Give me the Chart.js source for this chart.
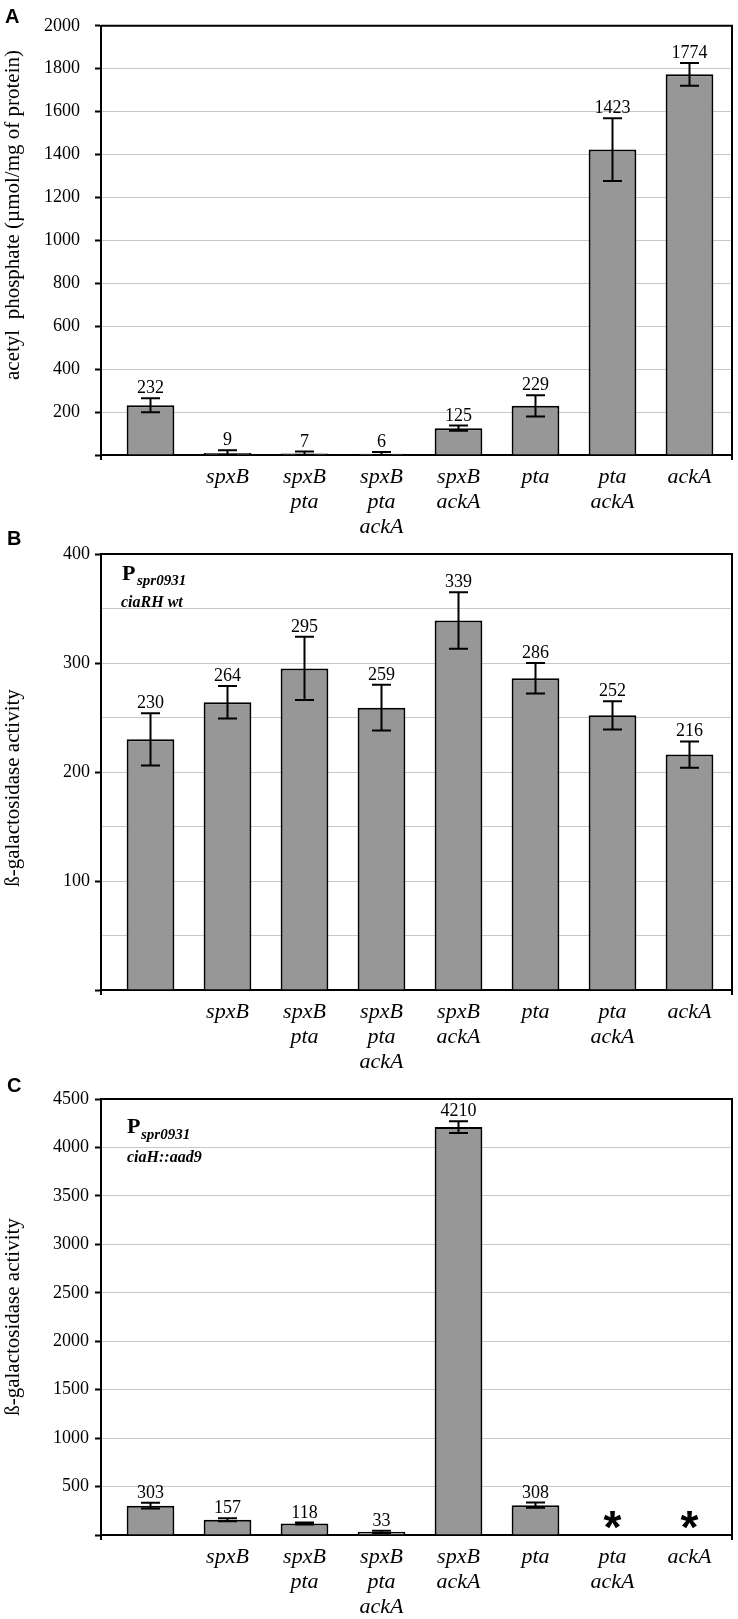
<!DOCTYPE html>
<html>
<head>
<meta charset="utf-8">
<script src="https://cdn.jsdelivr.net/npm/chart.js@4.4.1/dist/chart.umd.min.js"></script>
<style>
  html, body { margin: 0; padding: 0; background: #fff; }
  body { width: 738px; height: 1619px; position: relative; overflow: hidden; }
  canvas { position: absolute; left: 0; }
</style>
</head>
<body>
<canvas id="chartA" width="738" height="539" style="top:0px"></canvas>
<canvas id="chartB" width="738" height="549" style="top:525px"></canvas>
<canvas id="chartC" width="738" height="549" style="top:1070px"></canvas>
<script>
const strains = ["", "spxB", ["spxB", "pta"], ["spxB", "pta", "ackA"], ["spxB", "ackA"], "pta", ["pta", "ackA"], "ackA"];

// A: acetyl phosphate
const acetylP = [232, 9, 7, 6, 125, 229, 1423, 1774];
const acetylPErr = [33, 13, 9, 8, 12, 50, 146, 53];
const acetylTicks = {max: 2000, step: 200, major: 200};

// B: P spr0931, ciaRH wt
const galWt = [230, 264, 295, 259, 339, 286, 252, 216];
const galWtErr = [24, 15, 29, 21, 26, 14, 13, 12];
const galWtTicks = {max: 400, step: 50, major: 100};

// C: P spr0931, ciaH::aad9  (null = not obtained, shown as *)
const galCiaH = [303, 157, 118, 33, 4210, 308, null, null];
const galCiaHErr = [30, 15, 10, 12, 60, 27, null, null];
const galCiaHTicks = {max: 4500, step: 500, major: 500};

const serif = "'Liberation Serif', 'Times New Roman', serif";
const sans = "'Liberation Sans', Arial, sans-serif";

const extras = cfg => ({
    id: "extras",
    afterLayout(chart) {
        const x = chart.scales.x;
        x._startPixel = x.left + 11;
        x._endPixel = x.right - 4;
        x._length = x._endPixel - x._startPixel;
    },
    afterDatasetsDraw(chart) {
        const {ctx, chartArea: a, scales: {x, y}} = chart;
        ctx.save();
        ctx.strokeStyle = "#000";
        ctx.lineWidth = 2;
        ctx.beginPath();
        ctx.moveTo(a.left, a.top);
        ctx.lineTo(a.right, a.top);
        ctx.lineTo(a.right, a.bottom + 5);
        ctx.moveTo(a.left, a.bottom);
        ctx.lineTo(a.left, a.bottom + 5);
        ctx.stroke();

        ctx.fillStyle = "#000";
        ctx.textAlign = "center";
        cfg.values.forEach((v, i) => {
            const px = x.getPixelForValue(i);
            if (v === null) {
                ctx.font = "bold 46px " + sans;
                ctx.textBaseline = "alphabetic";
                ctx.fillText("*", px, a.bottom + 8);
                return;
            }
            const e = cfg.errors[i];
            const top = y.getPixelForValue(v + e);
            const bot = y.getPixelForValue(Math.max(v - e, 0));
            ctx.beginPath();
            ctx.moveTo(px, top);
            ctx.lineTo(px, bot);
            ctx.moveTo(px - 9.5, top);
            ctx.lineTo(px + 9.5, top);
            ctx.moveTo(px - 9.5, bot);
            ctx.lineTo(px + 9.5, bot);
            ctx.stroke();
            ctx.font = "18px " + serif;
            ctx.textBaseline = "alphabetic";
            ctx.fillText(String(v), px, top - 5);
        });
        ctx.restore();
    },
    afterDraw(chart) {
        const ctx = chart.ctx;
        ctx.save();
        ctx.fillStyle = "#000";
        ctx.font = "bold 20px " + sans;
        ctx.textAlign = "left";
        ctx.textBaseline = "alphabetic";
        ctx.fillText(cfg.letter, cfg.letterPos[0], cfg.letterPos[1]);

        cfg.notes.forEach(n => {
            ctx.font = n.font;
            ctx.fillText(n.text, n.x, n.y);
        });

        ctx.translate(13, cfg.titleY);
        ctx.rotate(-Math.PI / 2);
        ctx.textAlign = "center";
        ctx.textBaseline = "middle";
        ctx.font = "21px " + serif;
        ctx.fillText(cfg.title, 0, 0);
        ctx.restore();
    }
});

const makePanel = (id, cfg) => new Chart(document.getElementById(id), {
    type: "bar",
    data: {
        labels: strains,
        datasets: [{
            data: cfg.values,
            backgroundColor: "#979797",
            borderColor: "#000",
            borderWidth: 2,
            barPercentage: 0.62,
            categoryPercentage: 1
        }]
    },
    options: {
        responsive: false,
        animation: false,
        devicePixelRatio: 1,
        layout: {padding: {top: cfg.top, right: 6, left: 0, bottom: 0}},
        plugins: {
            legend: {display: false},
            tooltip: {enabled: false}
        },
        scales: {
            x: {
                grid: {display: false, drawTicks: false},
                border: {color: "#000", width: 2},
                ticks: {
                    color: "#000",
                    padding: 9.5,
                    maxRotation: 0,
                    autoSkip: false,
                    font: {family: serif, size: 22, style: "italic", lineHeight: "25px"}
                },
                afterFit: s => { s.height = 84; }
            },
            y: {
                min: 0,
                max: cfg.ticks.max,
                grid: {
                    color: "#c8c8c8",
                    lineWidth: 1,
                    tickLength: 6,
                    tickWidth: 2,
                    tickColor: c => c.tick && c.tick.value % cfg.ticks.major === 0 ? "#000" : "rgba(0,0,0,0)"
                },
                border: {color: "#000", width: 2},
                ticks: {
                    stepSize: cfg.ticks.step,
                    padding: cfg.pad,
                    color: "#000",
                    font: {family: serif, size: 18},
                    callback: v => v !== 0 && v % cfg.ticks.major === 0 ? v : ""
                },
                afterFit: s => { s.width = 101; }
            }
        }
    },
    plugins: [extras(cfg)]
});

makePanel("chartA", {
    values: acetylP, errors: acetylPErr, ticks: acetylTicks,
    top: 19, pad: 15,
    letter: "A", letterPos: [5, 23],
    title: "acetyl  phosphate (µmol/mg of protein)", titleY: 215,
    notes: []
});

makePanel("chartB", {
    values: galWt, errors: galWtErr, ticks: galWtTicks,
    top: 29, pad: 5,
    letter: "B", letterPos: [7, 20],
    title: "ß-galactosidase activity", titleY: 263,
    notes: [
        {text: "P", x: 122, y: 55, font: "bold 22px " + serif},
        {text: "spr0931", x: 137, y: 60, font: "bold italic 15px " + serif},
        {text: "ciaRH wt", x: 121, y: 82, font: "bold italic 16px " + serif}
    ]
});

makePanel("chartC", {
    values: galCiaH, errors: galCiaHErr, ticks: galCiaHTicks,
    top: 29, pad: 6,
    letter: "C", letterPos: [7, 22],
    title: "ß-galactosidase activity", titleY: 247,
    notes: [
        {text: "P", x: 127, y: 63, font: "bold 22px " + serif},
        {text: "spr0931", x: 141, y: 69, font: "bold italic 15px " + serif},
        {text: "ciaH::aad9", x: 127, y: 92, font: "bold italic 16px " + serif}
    ]
});
</script>
</body>
</html>
